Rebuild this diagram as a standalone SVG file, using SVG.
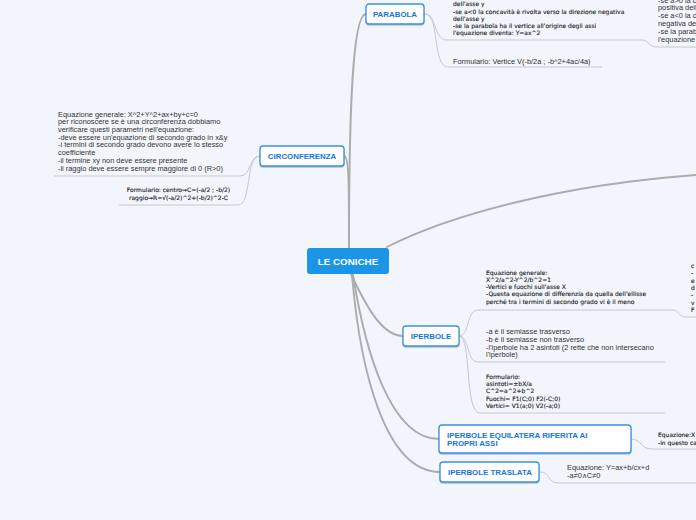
<svg xmlns="http://www.w3.org/2000/svg" width="696" height="520" viewBox="0 0 696 520">
<defs>
<filter id="sh" x="-10%" y="-20%" width="120%" height="160%">
<feDropShadow dx="0" dy="1" stdDeviation="0.7" flood-color="#1c5aa0" flood-opacity="0.35"/>
</filter>
<style>
.main{fill:none;stroke:#acacac;stroke-width:1.9;stroke-linecap:round}
.sub{fill:none;stroke:#c9c9c9;stroke-width:1}
.box{fill:#ffffff;stroke:#3f8fe4;stroke-width:1.3}
.nt{font-family:"Liberation Sans",Arial,sans-serif;font-weight:bold;font-size:7.9px;fill:#1a74dc}
.ct{font-family:"Liberation Sans",Arial,sans-serif;font-weight:bold;font-size:9.8px;fill:#ffffff}
.rt{font-family:"Liberation Sans",Arial,sans-serif;font-size:7.4px;fill:#333333}
.st{font-family:"DejaVu Sans",Verdana,sans-serif;font-size:6px;fill:#222222;stroke:#222222;stroke-width:0.12}
</style>
</defs>
<rect width="696" height="520" fill="#f2f5fc"/>
<g id="connectors">
<path class="main" d="M349,247 C349,120 352,14 366,14"/>
<path class="main" d="M344,156 C349,156 349,180 349,247"/>
<path class="main" d="M387,247 C450,215 560,185 696,175"/>
<path class="main" d="M351,274 C370,315 385,336 403,336"/>
<path class="main" d="M353,275 C365,350 390,439 439,439"/>
<path class="main" d="M352,275 C360,370 385,472 440,472"/>
<path class="sub" d="M425,14 C437,14 433,40 447,40 L641,40 C650,40 648,47 657,47 L696,47"/>
<path class="sub" d="M425,14 C440,14 432,67 448,67 L602,67"/>
<path class="sub" d="M260,156 C248,156 252,176 240,176 L54,176"/>
<path class="sub" d="M260,156 C245,156 252,205 238,205 L119,205"/>
<path class="sub" d="M459,336 C470,336 466,310 478,310 L672,310 C680,310 678,317 686,317 L696,317"/>
<path class="sub" d="M459,336 C470,336 466,362 478,362 L665,362"/>
<path class="sub" d="M459,336 C472,336 464,413 480,413 L665,413"/>
<path class="sub" d="M631,439 C642,439 640,449 652,449 L696,449"/>
<path class="sub" d="M540,472 C551,472 547,483 558,483 L696,483"/>
</g>
<g id="le-coniche">
<rect x="307" y="248" width="82" height="26" rx="3" fill="#1b96e6"/>
<text class="ct" x="348" y="264.5" text-anchor="middle">LE CONICHE</text>
</g>
<g id="parabola">
<rect class="box" x="366" y="4" width="58" height="20" rx="3" filter="url(#sh)"/>
<text class="nt" x="395" y="16.8" text-anchor="middle">PARABOLA</text>
</g>
<g id="parabola-eq">
<text class="st" x="453" y="6.2">dell'asse y</text>
<text class="st" x="453" y="13.5">-se a&lt;0 la concavità è rivolta verso la direzione negativa</text>
<text class="st" x="453" y="20.8">dell'asse y</text>
<text class="st" x="453" y="28.1">-se la parabola ha il vertice all'origine degli assi</text>
<text class="st" x="453" y="35.4">l'equazione diventa: Y=ax^2</text>
</g>
<g id="parabola-right">
<text class="rt" x="658" y="2.5">-se a&gt;0 la c</text>
<text class="rt" x="658" y="10.3">positiva dell</text>
<text class="rt" x="658" y="18.1">-se a&lt;0 la c</text>
<text class="rt" x="658" y="25.9">negativa de</text>
<text class="rt" x="658" y="33.7">-se la parab</text>
<text class="rt" x="658" y="41.5">l'equazione</text>
</g>
<g id="parabola-form">
<text class="rt" x="453" y="63.5">Formulario: Vertice V(-b/2a ; -b^2+4ac/4a)</text>
</g>
<g id="circonferenza">
<rect class="box" x="260" y="146" width="84" height="20" rx="3" filter="url(#sh)"/>
<text class="nt" x="302" y="158.7" text-anchor="middle">CIRCONFERENZA</text>
</g>
<g id="circ-eq">
<text class="rt" x="58" y="116.6">Equazione generale: X^2+Y^2+ax+by+c=0</text>
<text class="rt" x="58" y="124.3">per riconoscere se è una circonferenza dobbiamo</text>
<text class="rt" x="58" y="132">verificare questi parametri nell'equazione:</text>
<text class="rt" x="58" y="139.7">-deve essere un'equazione di secondo grado in x&amp;y</text>
<text class="rt" x="58" y="147.4">-i termini di secondo grado devono avere lo stesso</text>
<text class="rt" x="58" y="155.1">coefficiente</text>
<text class="rt" x="58" y="162.8">-il termine xy non deve essere presente</text>
<text class="rt" x="58" y="170.5">-il raggio deve essere sempre maggiore di 0 (R&gt;0)</text>
</g>
<g id="circ-form">
<text class="st" x="178.5" y="192" text-anchor="middle">Formulario: centro→C=(-a/2 ; -b/2)</text>
<text class="st" x="178.5" y="199.7" text-anchor="middle">raggio→R=√(-a/2)^2+(-b/2)^2-C</text>
</g>
<g id="iperbole">
<rect class="box" x="403" y="326" width="56" height="20" rx="3" filter="url(#sh)"/>
<text class="nt" x="431" y="338.7" text-anchor="middle">IPERBOLE</text>
</g>
<g id="iper-eq">
<text class="st" x="486" y="274.5">Equazione generale:</text>
<text class="st" x="486" y="281.8">X^2/a^2-Y^2/b^2=1</text>
<text class="st" x="486" y="289.1">-Vertici e fuochi sull'asse X</text>
<text class="st" x="486" y="296.4">-Questa equazione di differenzia da quella dell'ellisse</text>
<text class="st" x="486" y="303.7">perché tra i termini di secondo grado vi è il meno</text>
</g>
<g id="iper-right">
<text class="st" x="691" y="268">c</text>
<text class="st" x="691" y="275.3">-</text>
<text class="st" x="691" y="282.6">e</text>
<text class="st" x="691" y="289.9">d</text>
<text class="st" x="691" y="297.2">-</text>
<text class="st" x="691" y="304.5">v</text>
<text class="st" x="691" y="311.8">F</text>
</g>
<g id="iper-semiassi">
<text class="rt" x="486" y="334.3">-a è il semiasse trasverso</text>
<text class="rt" x="486" y="342">-b è il semiasse non trasverso</text>
<text class="rt" x="486" y="349.7">-l'iperbole ha 2 asintoti (2 rette che non intersecano</text>
<text class="rt" x="486" y="357.4">l'iperbole)</text>
</g>
<g id="iper-form">
<text class="st" x="486" y="378.7">Formulario:</text>
<text class="st" x="486" y="386">asintoti=±bX/a</text>
<text class="st" x="486" y="393.3">C^2=a^2+b^2</text>
<text class="st" x="486" y="400.6">Fuochi= F1(C;0) F2(-C;0)</text>
<text class="st" x="486" y="407.9">Vertici= V1(a;0) V2(-a;0)</text>
</g>
<g id="iperbole-equilatera">
<rect class="box" x="439" y="425" width="192" height="28" rx="3" filter="url(#sh)"/>
<text class="nt" x="447" y="437.7">IPERBOLE EQUILATERA RIFERITA AI</text>
<text class="nt" x="447" y="446.4">PROPRI ASSI</text>
</g>
<g id="equilatera-eq">
<text class="st" x="658" y="437">Equazione:X</text>
<text class="st" x="658" y="445">-in questo ca</text>
</g>
<g id="iperbole-traslata">
<rect class="box" x="440" y="462" width="99" height="20" rx="3" filter="url(#sh)"/>
<text class="nt" x="448" y="474.7">IPERBOLE TRASLATA</text>
</g>
<g id="traslata-eq">
<text class="rt" x="567" y="470">Equazione: Y=ax+b/cx+d</text>
<text class="rt" x="567" y="478.3">-a≠0∧C≠0</text>
</g>
</svg>
